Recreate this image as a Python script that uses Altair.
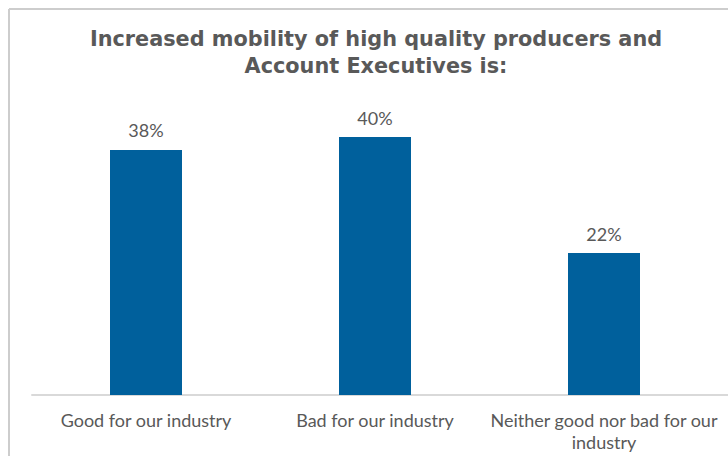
import altair as alt
import pandas as pd

categories = ["Good for our industry", "Bad for our industry", "Neither good nor bad for our industry"]
values = [38, 40, 22]
labels = ["38%", "40%", "22%"]
title_lines = ["Increased mobility of high quality producers and", "Account Executives is:"]

df = pd.DataFrame({"cat": categories, "val": values, "lab": labels})

x = alt.X("cat:N", sort=categories, title=None,
          scale=alt.Scale(paddingInner=0, paddingOuter=0),
          axis=alt.Axis(labelAngle=0, labelFont="Lato", labelFontSize=18, labelColor="#595959",
                        labelPadding=17, labelLimit=400, ticks=False, domain=False,
                        labelLineHeight=22,
                        labelExpr="datum.label == 'Neither good nor bad for our industry' ? ['Neither good nor bad for our', 'industry'] : datum.label"))
y = alt.Y("val:Q", scale=alt.Scale(domain=[0, 50]), axis=None)

base = alt.Chart(df)
bars = base.mark_bar(size=72, color="#00609C").encode(x=x, y=y)
text = base.mark_text(dy=-12.5, baseline="alphabetic", font="Lato", fontSize=18, color="#595959").encode(
    x=alt.X("cat:N", sort=categories), y=y, text="lab:N")

domain_line = base.mark_rule(color="#d9d9d9", strokeWidth=1.5).encode(
    x=alt.value(0), x2=alt.value(697), y=alt.value(322.5))
frame_top = base.mark_rule(color="#cccccc", strokeWidth=1.5).encode(
    x=alt.value(-22.5), x2=alt.value(720), y=alt.value(-63.5))
frame_left = base.mark_rule(color="#cccccc", strokeWidth=1.5).encode(
    x=alt.value(-22.5), y=alt.value(-63.5), y2=alt.value(400))

title_mark = alt.Chart(pd.DataFrame({"t": [title_lines]})).mark_text(
    font="DejaVu Sans", fontSize=20.8, fontWeight=700, color="#595959",
    lineHeight=27, baseline="alphabetic", align="center"
).encode(x=alt.value(344.5), y=alt.value(-26.5), text=alt.Text("t"))

chart = alt.layer(frame_top, frame_left, domain_line, bars, text, title_mark).properties(
    width=687, height=322.5,
    autosize=alt.AutoSizeParams(type="none"),
    padding={"left": 31.5, "top": 72.5, "right": 9.5, "bottom": 61},
).configure_view(stroke=None)

chart.save("out.html", embed_options={"renderer": "svg", "actions": False})
